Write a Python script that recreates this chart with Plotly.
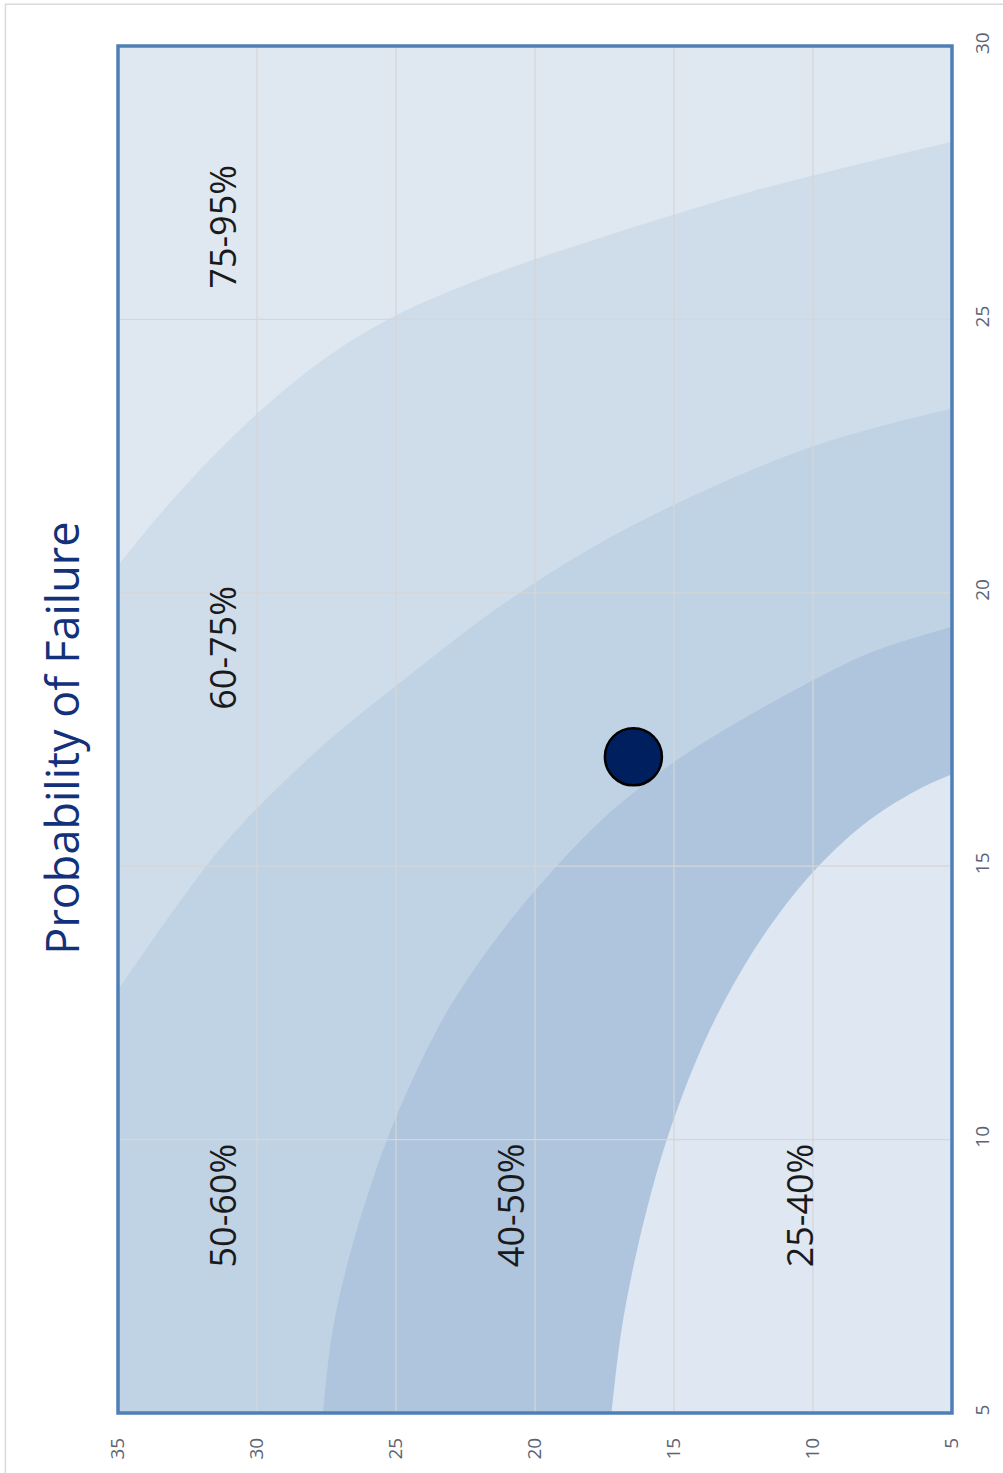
import plotly.graph_objects as go

# ---- data (original chart: horizontal axis = "y" 35..5, vertical axis = "x" 5..30) ----
h_ticks = [5, 10, 15, 20, 25, 30, 35]
v_ticks = [5, 10, 15, 20, 25, 30]

band_names = ["75-95%", "60-75%", "50-60%", "40-50%", "25-40%"]
band_colors = ["#DFE7F1", "#CFDDEA", "#C0D3E5", "#AFC5DD", "#DFE8F2"]

# boundary 75-95 | 60-75
b4_h = [35, 32.78, 30.01, 27.38, 25.01, 23.14, 21.27, 19.47, 17.67, 15.05, 12.49, 9.94, 7.56, 5.0]
b4_v = [20.5, 21.85, 23.27, 24.35, 25.07, 25.50, 25.87, 26.19, 26.49, 26.91, 27.30, 27.64, 27.94, 28.25]
# boundary 60-75 | 50-60
b3_h = [35, 32.89, 31.34, 29.90, 27.38, 25.12, 23.07, 21.27, 18.28, 14.79, 9.94, 5.0]
b3_v = [12.74, 14.27, 15.31, 16.11, 17.32, 18.25, 19.07, 19.75, 20.73, 21.66, 22.69, 23.37]
# boundary 50-60 | 40-50
b2_h = [27.63, 27.29, 26.77, 26.07, 25.33, 24.53, 23.58, 22.89, 21.52, 19.96, 17.57, 15.01, 13.0, 9.96, 7.92, 5.0]
b2_v = [5.0, 6.48, 7.69, 8.91, 9.99, 10.96, 11.96, 12.57, 13.59, 14.58, 15.86, 16.90, 17.55, 18.41, 18.91, 19.38]
# boundary 40-50 | 25-40
b1_h = [17.25, 16.90, 16.45, 15.87, 15.25, 14.27, 13.17, 11.65, 9.84, 7.98, 6.26, 5.0]
b1_v = [5.0, 6.48, 7.70, 8.93, 10.01, 11.36, 12.55, 13.83, 14.98, 15.84, 16.39, 16.68]

# band label positions
label_h = [31.25, 31.25, 31.25, 20.9, 10.5]
label_v = [26.7, 19.0, 8.8, 8.8, 8.8]

# current point
point_h = [16.46]
point_v = [17.0]

title_text = "Probability of Failure"

# ---- figure ----
fig = go.Figure()

boundaries = [(b4_h, b4_v), (b3_h, b3_v), (b2_h, b2_v), (b1_h, b1_v)]
for (bh, bv), col in zip(boundaries, band_colors[1:]):
    fig.add_trace(go.Scatter(
        x=bh, y=bv, mode="lines", line=dict(width=0, shape="spline", smoothing=1.0),
        fill="tozeroy", fillcolor=col, hoverinfo="skip", showlegend=False))

fig.add_trace(go.Scatter(
    x=point_h, y=point_v, mode="markers",
    marker=dict(size=57, color="#001F5E", line=dict(color="#000000", width=2.5)),
    showlegend=False))

shapes = []
for t in h_ticks[1:-1]:
    shapes.append(dict(type="line", xref="x", yref="y", x0=t, x1=t, y0=5, y1=30,
                       line=dict(color="#D6D6D6", width=1.2), layer="above"))
for t in v_ticks[1:-1]:
    shapes.append(dict(type="line", xref="x", yref="y", x0=5, x1=35, y0=t, y1=t,
                       line=dict(color="#D6D6D6", width=1.2), layer="above"))
# plot-area frame
shapes.append(dict(type="rect", xref="paper", yref="paper", x0=0, x1=1, y0=0, y1=1,
                   line=dict(color="#4F7FB7", width=3.5), layer="above"))
# outer chart border (left and top visible)
shapes.append(dict(type="rect", xref="paper", yref="paper", x0=-0.135, x1=1.2, y0=-0.2, y1=1.0306,
                   line=dict(color="#D9D9D9", width=1.5), layer="below"))

annotations = []
for name, lh, lv in zip(band_names, label_h, label_v):
    annotations.append(dict(x=lh, y=lv, xref="x", yref="y", text=name, showarrow=False,
                            textangle=-90, xanchor="center", yanchor="middle",
                            font=dict(family="Open Sans", size=36, color="#1A1A1A")))
annotations.append(dict(x=-0.0672, y=0.494, xref="paper", yref="paper", text=title_text,
                        showarrow=False, textangle=-90, xanchor="center", yanchor="middle",
                        font=dict(family="Open Sans", size=45, color="#13317A")))

fig.update_layout(
    width=1003, height=1473,
    margin=dict(l=118, r=51, t=46, b=60, pad=0),
    paper_bgcolor="white", plot_bgcolor=band_colors[0],
    shapes=shapes, annotations=annotations,
    font=dict(family="Open Sans"),
    xaxis=dict(range=[35, 5], tickvals=h_ticks, ticktext=[str(t) for t in h_ticks],
               tickangle=-90, showgrid=False, zeroline=False, showline=False,
               automargin=False, ticklabelstandoff=20,
               tickfont=dict(size=19, color="#5B6474")),
    yaxis=dict(range=[5, 30], tickvals=v_ticks, ticktext=[str(t) for t in v_ticks],
               side="right", tickangle=-90, showgrid=False, zeroline=False, showline=False,
               automargin=False, ticklabelstandoff=17,
               tickfont=dict(size=19, color="#5B6474")),
)

fig.write_html("out.html")
